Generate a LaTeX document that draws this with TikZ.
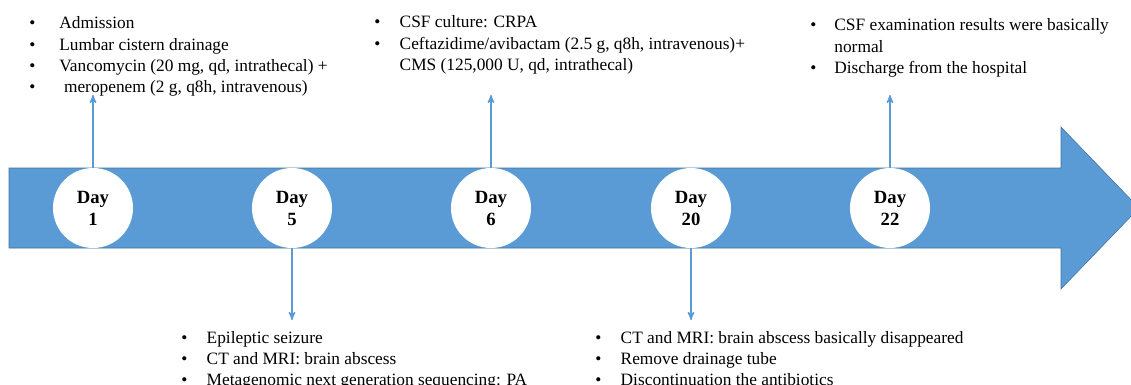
\documentclass[tikz,border=0pt]{standalone}
\usepackage{fontspec}
\setmainfont{Liberation Serif}
\usetikzlibrary{arrows,positioning}
\definecolor{blue1}{RGB}{91,155,213}
\definecolor{blue2}{RGB}{65,113,156}

\begin{document}
\begin{tikzpicture}[->,>=stealth',x=0.75pt,y=-0.75pt,semithick]
        \tikzstyle{daycircle}=[circle,fill=white,draw=none,inner sep=0pt,minimum size=60pt,
                               align=center,font=\fontsize{14}{16.5}\selectfont\bfseries]
        \tikzstyle{events}=[anchor=base west,inner sep=0pt,font=\fontsize{13}{16}\selectfont]
        \tikzstyle{link}=[blue1,line width=1.1pt]

        \useasboundingbox (0,0) rectangle (1131,385);

        % timeline arrow
        \draw[-,fill=blue1,draw=blue2,thin] (9,168) -- (1061,168) -- (1061,127) -- (1139,208)
            -- (1061,289) -- (1061,248) -- (9,248) -- cycle;

        \node[daycircle]     (d1)  at (93, 208)     {Day\\1};
        \node[daycircle]     (d5)  at (292, 208)    {Day\\5};
        \node[daycircle]     (d6)  at (491, 208)    {Day\\6};
        \node[daycircle]     (d20) at (691, 208)    {Day\\20};
        \node[daycircle]     (d22) at (890, 208)    {Day\\22};

        \node[events] (ev1) at (29, 29) {\begin{tabular}[t]{@{}p{22.5pt}@{}l@{}}
            \textbullet & Admission\\
            \textbullet & Lumbar cistern drainage\\
            \textbullet & Vancomycin (20 mg, qd, intrathecal) +\\
            \textbullet & \hspace{3.5pt}meropenem (2 g, q8h, intravenous)
            \end{tabular}};
        \node[events] (ev6) at (374, 28) {\begin{tabular}[t]{@{}p{19pt}@{}l@{}}
            \textbullet & CSF culture: CRPA\\
            \textbullet & Ceftazidime/avibactam (2.5 g, q8h, intravenous)+\\
                        & CMS (125,000 U, qd, intrathecal)
            \end{tabular}};
        \node[events] (ev22) at (810, 31) {\begin{tabular}[t]{@{}p{18pt}@{}l@{}}
            \textbullet & CSF examination results were basically\\
                        & normal\\
            \textbullet & Discharge from the hospital
            \end{tabular}};
        \node[events] (ev5) at (181, 343) {\begin{tabular}[t]{@{}p{19pt}@{}l@{}}
            \textbullet & Epileptic seizure\\
            \textbullet & CT and MRI: brain abscess\\
            \textbullet & Metagenomic next generation sequencing: PA
            \end{tabular}};
        \node[events] (ev20) at (595, 343) {\begin{tabular}[t]{@{}p{19pt}@{}l@{}}
            \textbullet & CT and MRI: brain abscess basically disappeared\\
            \textbullet & Remove drainage tube\\
            \textbullet & Discontinuation the antibiotics
            \end{tabular}};

        \coordinate (up1)  at (93, 95);
        \coordinate (up6)  at (491, 95);
        \coordinate (up22) at (890, 95);
        \coordinate (dn5)  at (292, 320);
        \coordinate (dn20) at (691, 320);

        \draw[link] (d1) -- (up1);
        \draw[link] (d6) -- (up6);
        \draw[link] (d22) -- (up22);
        \draw[link] (d5) -- (dn5);
        \draw[link] (d20) -- (dn20);
    \end{tikzpicture}
\end{document}
